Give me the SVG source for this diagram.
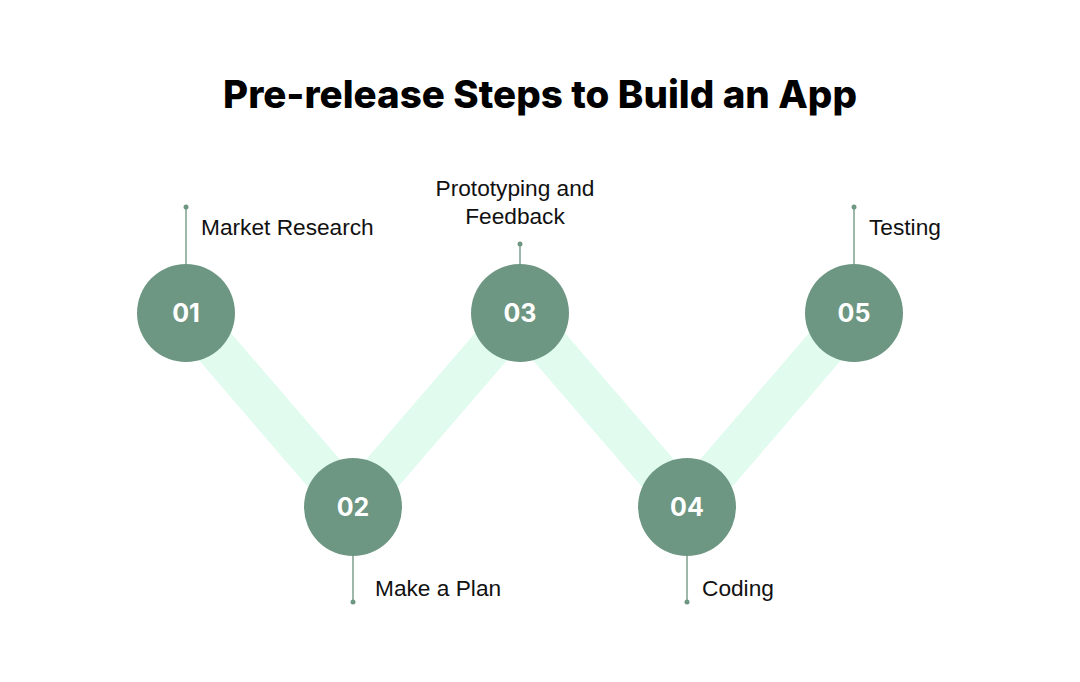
<svg xmlns="http://www.w3.org/2000/svg" width="1080" height="682" viewBox="0 0 1080 682">
<style>
.band{stroke:#e1fbef;stroke-width:42;fill:none}
.c{fill:#6e9783}
.n{font-family:Inter,"Liberation Sans",sans-serif;font-weight:700;font-size:25px;fill:#fff;text-anchor:middle}
.l{font-family:"Liberation Sans",Inter,sans-serif;font-size:22.7px;fill:#111}
.st{stroke:#9fb6aa;stroke-width:2}
.d{fill:#6e9783}
</style>
<rect width="1080" height="682" fill="#fff"/>
<text x="540" y="108" text-anchor="middle" font-family="Inter,'Liberation Sans',sans-serif" font-weight="800" font-size="38.5" fill="#000">Pre-release Steps to Build an App</text>
<g id="connectors">
<polyline class="band" points="186,313 353,507 520,313 687,507 854,313"/>
<line class="st" x1="186" y1="207" x2="186" y2="266"/><circle class="d" cx="186" cy="207" r="2.5"/>
<line class="st" x1="520" y1="244" x2="520" y2="266"/><circle class="d" cx="520" cy="244" r="2.5"/>
<line class="st" x1="854" y1="207" x2="854" y2="266"/><circle class="d" cx="854" cy="207" r="2.5"/>
<line class="st" x1="353" y1="554" x2="353" y2="602"/><circle class="d" cx="353" cy="602" r="2.5"/>
<line class="st" x1="687" y1="554" x2="687" y2="602"/><circle class="d" cx="687" cy="602" r="2.5"/>
</g>
<g id="n1"><circle class="c" cx="186" cy="313" r="49"/><text class="n" x="186" y="322">01</text><text class="l" x="201" y="235">Market Research</text></g>
<g id="n2"><circle class="c" cx="353" cy="507" r="49"/><text class="n" x="353" y="516">02</text><text class="l" x="375" y="596">Make a Plan</text></g>
<g id="n3"><circle class="c" cx="520" cy="313" r="49"/><text class="n" x="520" y="322">03</text><text class="l" x="515" y="196" text-anchor="middle">Prototyping and</text><text class="l" x="515" y="224" text-anchor="middle">Feedback</text></g>
<g id="n4"><circle class="c" cx="687" cy="507" r="49"/><text class="n" x="687" y="516">04</text><text class="l" x="702" y="596">Coding</text></g>
<g id="n5"><circle class="c" cx="854" cy="313" r="49"/><text class="n" x="854" y="322">05</text><text class="l" x="869" y="235">Testing</text></g>
</svg>
